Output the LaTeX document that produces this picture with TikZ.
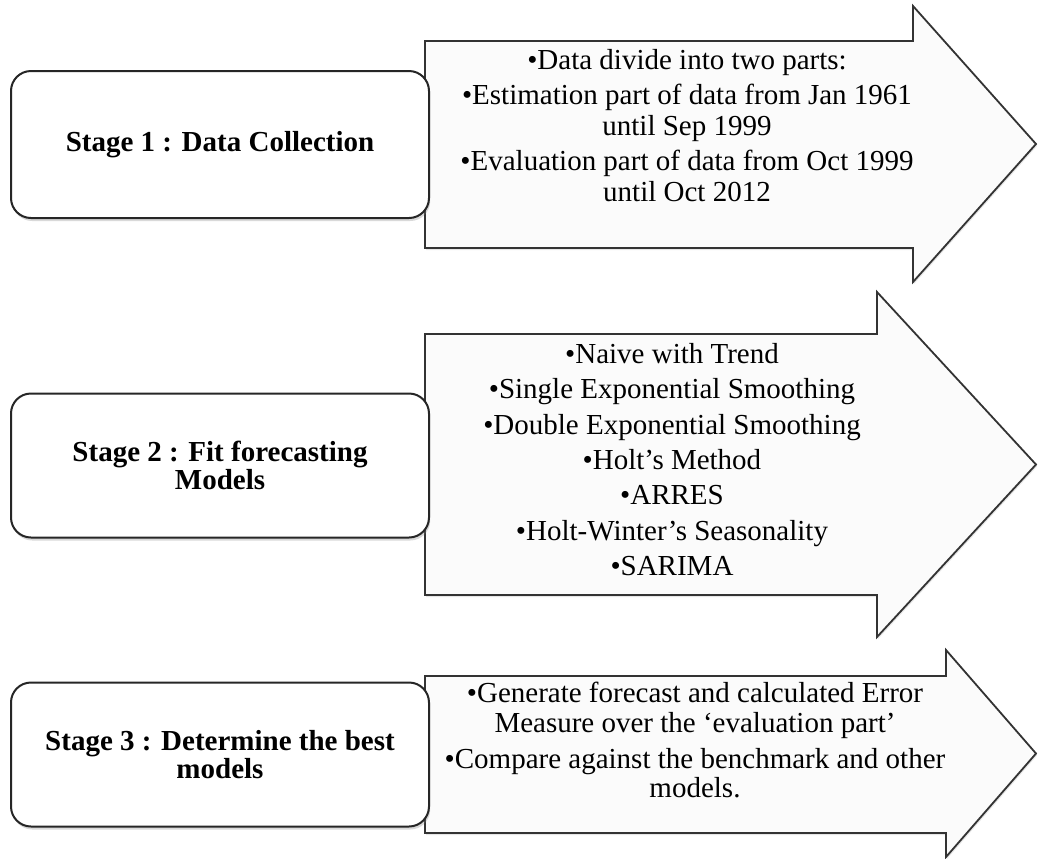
\documentclass[tikz,border=0pt]{standalone}
\usepackage{fontspec}
\setmainfont{Liberation Serif}
\usetikzlibrary{shadows}
\tikzset{stagebox/.style={draw=black!85, line width=1pt, rounded corners=10pt, fill=white,
  minimum width=209pt, minimum height=72pt, align=center, inner sep=0pt,
  font=\fontsize{14.5}{14}\selectfont\bfseries,
  drop shadow={shadow xshift=0.6pt, shadow yshift=-1.5pt, opacity=0.3}}}
\tikzset{stagearrow/.style={draw=black!80, line width=0.9pt, fill=black!1.5, line join=miter,
  drop shadow={shadow xshift=0.5pt, shadow yshift=-1pt, opacity=0.2}}}
\tikzset{bullets/.style={anchor=north, align=center, inner sep=0pt,
  font=\fontsize{14.5}{15.75}\selectfont}}

\begin{document}
\begin{tikzpicture}[x=0.5pt,y=-0.5pt]

\useasboundingbox (0,0) rectangle (1039,858);

% the three arrows: body top/bottom, head x, head top/bottom
\foreach \yt/\yb/\hx/\ht/\hb in {41/248/913/6/282, 334/595/877/292/637, 676/833/946/650/857}{
  \draw[stagearrow] (425,\yt) -- (\hx,\yt) -- (\hx,\ht) -- (1036,{(\ht+\hb)/2})
    -- (\hx,\hb) -- (\hx,\yb) -- (425,\yb) -- cycle;
}

\node[stagebox, minimum height=73.5pt] (stage1) at (220,144.5) {Stage 1 : Data Collection};
\node[stagebox] (stage2) at (220,465.5) {Stage 2 : Fit forecasting\\ Models};
\node[stagebox] (stage3) at (220,754.5) {Stage 3 : Determine the best\\ models};

\node[bullets] (list1) at (687,49) {•Data divide into two parts:\\[1.5pt]
  •Estimation part of data from Jan 1961\\ until Sep 1999\\[1.5pt]
  •Evaluation part of data from Oct 1999\\ until Oct 2012};

\node[bullets, font=\fontsize{14.5}{17.65}\selectfont] (list2) at (672,343) {•Naive with Trend\\
  •Single Exponential Smoothing\\ •Double Exponential Smoothing\\ •Holt’s Method\\
  •ARRES\\ •Holt-Winter’s Seasonality\\ •SARIMA};

\node[bullets, font=\fontsize{14.5}{14.75}\selectfont] (list3) at (695,682) {•Generate forecast and calculated Error\\
  Measure over the ‘evaluation part’\\[3.25pt]
  •Compare against the benchmark and other\\ models.};

\end{tikzpicture}
\end{document}
